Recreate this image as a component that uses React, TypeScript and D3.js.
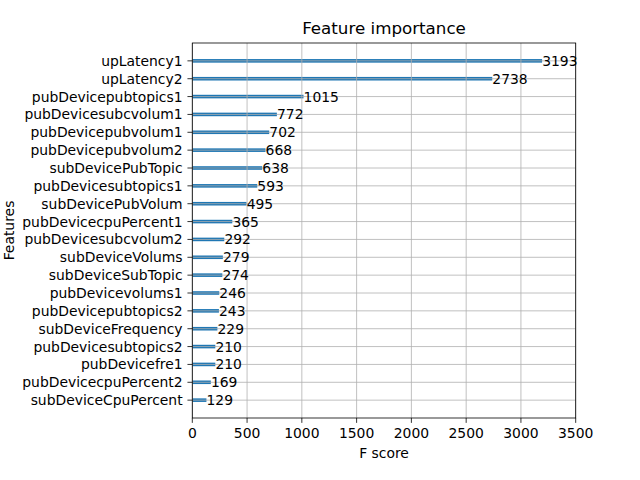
import { useEffect, useRef } from "react"
import * as d3 from "d3"

const features = [
  "upLatency1",
  "upLatency2",
  "pubDevicepubtopics1",
  "pubDevicesubcvolum1",
  "pubDevicepubvolum1",
  "pubDevicepubvolum2",
  "subDevicePubTopic",
  "pubDevicesubtopics1",
  "subDevicePubVolum",
  "pubDevicecpuPercent1",
  "pubDevicesubcvolum2",
  "subDeviceVolums",
  "subDeviceSubTopic",
  "pubDevicevolums1",
  "pubDevicepubtopics2",
  "subDeviceFrequency",
  "pubDevicesubtopics2",
  "pubDevicefre1",
  "pubDevicecpuPercent2",
  "subDeviceCpuPercent",
]
const scores = [3193, 2738, 1015, 772, 702, 668, 638, 593, 495, 365, 292, 279, 274, 246, 243, 229, 210, 210, 169, 129]
const xTicks = [0, 500, 1000, 1500, 2000, 2500, 3000, 3500]

export default function App() {
  const svgRef = useRef<SVGSVGElement | null>(null)

  useEffect(() => {
    if (!svgRef.current) return
    const root = d3.select(svgRef.current)
    root.selectAll("*").remove()

    const left = 192.3
    const right = 575.7
    const top = 43
    const bottom = 418
    const font = "DejaVu Sans"

    const x = d3.scaleLinear().domain([0, 3500]).range([left, right])
    // index 0 at top, matplotlib ylim (-1, n)
    const n = features.length
    const y = d3.scaleLinear().domain([-1, n]).range([bottom, top])
    const yPos = (i: number) => y(n - 1 - i)
    const barH = y(0) - y(0.2)

    root.append("rect").attr("width", 640).attr("height", 480).attr("fill", "white")

    // bars
    root
      .selectAll(".bar")
      .data(scores)
      .enter()
      .append("rect")
      .attr("x", x(0))
      .attr("y", (d, i) => yPos(i) - barH / 2)
      .attr("width", (d) => x(d) - x(0))
      .attr("height", barH)
      .attr("fill", "#1f77b4")

    // grid
    const grid = root.append("g").attr("stroke", "#b0b0b0").attr("stroke-width", 0.8)
    xTicks.forEach((t) => {
      grid.append("line").attr("x1", x(t)).attr("x2", x(t)).attr("y1", top).attr("y2", bottom)
    })
    features.forEach((f, i) => {
      grid.append("line").attr("x1", left).attr("x2", right).attr("y1", yPos(i)).attr("y2", yPos(i))
    })

    // value labels
    root
      .selectAll(".val")
      .data(scores)
      .enter()
      .append("text")
      .attr("x", (d) => x(d + 1))
      .attr("y", (d, i) => yPos(i))
      .attr("dy", "0.36em")
      .attr("font-family", font)
      .attr("font-size", "13.9px")
      .attr("fill", "black")
      .text((d) => d)

    // spines
    root
      .append("rect")
      .attr("x", left)
      .attr("y", top)
      .attr("width", right - left)
      .attr("height", bottom - top)
      .attr("fill", "none")
      .attr("stroke", "black")
      .attr("stroke-width", 0.8)

    // x ticks
    const tick = 4.86
    xTicks.forEach((t) => {
      root.append("line").attr("x1", x(t)).attr("x2", x(t)).attr("y1", bottom).attr("y2", bottom + tick).attr("stroke", "black").attr("stroke-width", 0.8)
      root
        .append("text")
        .attr("x", x(t))
        .attr("y", bottom + tick + 4.86)
        .attr("dy", "0.76em")
        .attr("text-anchor", "middle")
        .attr("font-family", font)
        .attr("font-size", "13.9px")
        .text(t)
    })

    // y ticks
    features.forEach((f, i) => {
      root.append("line").attr("x1", left - tick).attr("x2", left).attr("y1", yPos(i)).attr("y2", yPos(i)).attr("stroke", "black").attr("stroke-width", 0.8)
      root
        .append("text")
        .attr("x", left - tick - 4.86)
        .attr("y", yPos(i))
        .attr("dy", "0.36em")
        .attr("text-anchor", "end")
        .attr("font-family", font)
        .attr("font-size", "13.9px")
        .text(f)
    })

    root
      .append("text")
      .attr("x", (left + right) / 2)
      .attr("y", 458)
      .attr("text-anchor", "middle")
      .attr("font-family", font)
      .attr("font-size", "13.9px")
      .text("F score")

    root
      .append("text")
      .attr("transform", `translate(14,${(top + bottom) / 2}) rotate(-90)`)
      .attr("text-anchor", "middle")
      .attr("font-family", font)
      .attr("font-size", "13.9px")
      .text("Features")

    root
      .append("text")
      .attr("x", (left + right) / 2)
      .attr("y", top - 9)
      .attr("text-anchor", "middle")
      .attr("font-family", font)
      .attr("font-size", "16.7px")
      .text("Feature importance")
  }, [])

  return <svg ref={svgRef} width={640} height={480} style={{ position: "absolute", left: 0, top: 0 }}></svg>
}
